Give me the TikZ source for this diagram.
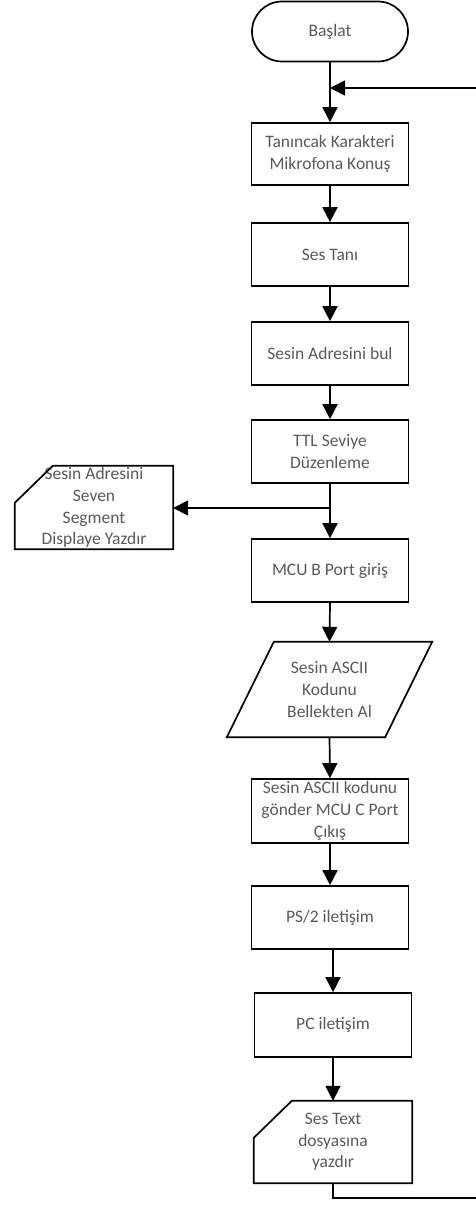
\documentclass[tikz,border=0pt]{standalone}
\usepackage{fontspec}
\setmainfont{Carlito}
\usetikzlibrary{arrows.meta,calc}
\definecolor{txtgray}{HTML}{595959}
\tikzset{
  box/.style={draw, line width=1.7pt, minimum width=157pt, inner sep=0pt, align=center, text=txtgray, font=\fontsize{17.5}{21.7}\selectfont},
  txt/.style={inner sep=0pt, align=center, text=txtgray, font=\fontsize{17.5}{21.7}\selectfont},
  outl/.style={draw, line width=1.7pt, line join=miter},
  conn/.style={line width=1.7pt, -{Triangle[width=15pt,length=15pt]}},
  plain/.style={line width=1.7pt}
}
\begin{document}
\begin{tikzpicture}[x=1pt,y=-1pt]
\useasboundingbox (0,0) rectangle (475,1209);
% start terminal
\node[box, minimum width=156pt, minimum height=60pt, rounded corners=30pt] (start) at (330,31.5) {Başlat};
\node[box, minimum height=62pt] (b1) at (330,154) {Tanıncak Karakteri\\Mikrofona Konuş};
\node[box, minimum height=63pt] (b2) at (330,254.5) {Ses Tanı};
\node[box, minimum height=63pt] (b3) at (330,353.5) {Sesin Adresini bul};
\node[box, minimum height=63pt] (b4) at (330,451.5) {TTL Seviye\\Düzenleme};
% left card
\node[txt, minimum width=158pt, minimum height=83pt] (c1) at (94,507.5) {Sesin Adresini\\Seven\\Segment\\Displaye Yazdır};
\draw[outl] (c1.north east) -- (c1.south east) -- (c1.south west) -- ($(c1.north west)+(0,37)$) -- ($(c1.north west)+(38,0)$) -- cycle;
\node[box, minimum height=63pt] (b5) at (330,570.5) {MCU B Port giriş};
% parallelogram
\node[txt, minimum width=158pt, minimum height=95pt] (p1) at (329.5,689.5) {Sesin ASCII\\Kodunu\\Bellekten Al};
\draw[outl] ($(p1.north west)+(23.5,0)$) -- ($(p1.north east)+(23.5,0)$) -- ($(p1.south east)+(-23.5,0)$) -- ($(p1.south west)+(-23.5,0)$) -- cycle;
\node[box, minimum height=64pt] (b6) at (330,811) {Sesin ASCII kodunu\\gönder MCU C Port\\Çıkış};
\node[box, minimum height=63pt] (b7) at (330,917.5) {PS/2 iletişim};
\node[box, minimum height=64pt] (b8) at (333,1025) {PC iletişim};
% bottom card
\node[txt, minimum width=158pt, minimum height=82pt] (c2) at (333,1142) {Ses Text\\dosyasına\\yazdır};
\draw[outl] (c2.north east) -- (c2.south east) -- (c2.south west) -- ($(c2.north west)+(0,37)$) -- ($(c2.north west)+(38,0)$) -- cycle;
% connectors
\coordinate (jtop) at (start.south |- 0,88);
\coordinate (jmid) at (b4.south |- 0,508);
\coordinate (lb) at (c2.south |- 0,1198);
\coordinate (rb) at (480,1198);
\coordinate (rt) at (480,88);
\draw[conn] (start.south) -- (b1.north);
\draw[conn] (b1.south) -- (b2.north);
\draw[conn] (b2.south) -- (b3.north);
\draw[conn] (b3.south) -- (b4.north);
\draw[conn] (b4.south) -- (b5.north);
\draw[conn] (jmid) -- (c1.east |- jmid);
\draw[conn] (b5.south) -- (p1.north);
\draw[conn] (p1.south) -- (b6.north);
\draw[conn] (b6.south) -- (b7.north);
\draw[conn] (b7.south -| b8.north) -- (b8.north);
\draw[conn] (b8.south) -- (c2.north);
\draw[plain] (c2.south) -- (lb) -- (rb) -- (rt);
\draw[conn] (rt) -- (jtop);
\end{tikzpicture}
\end{document}
